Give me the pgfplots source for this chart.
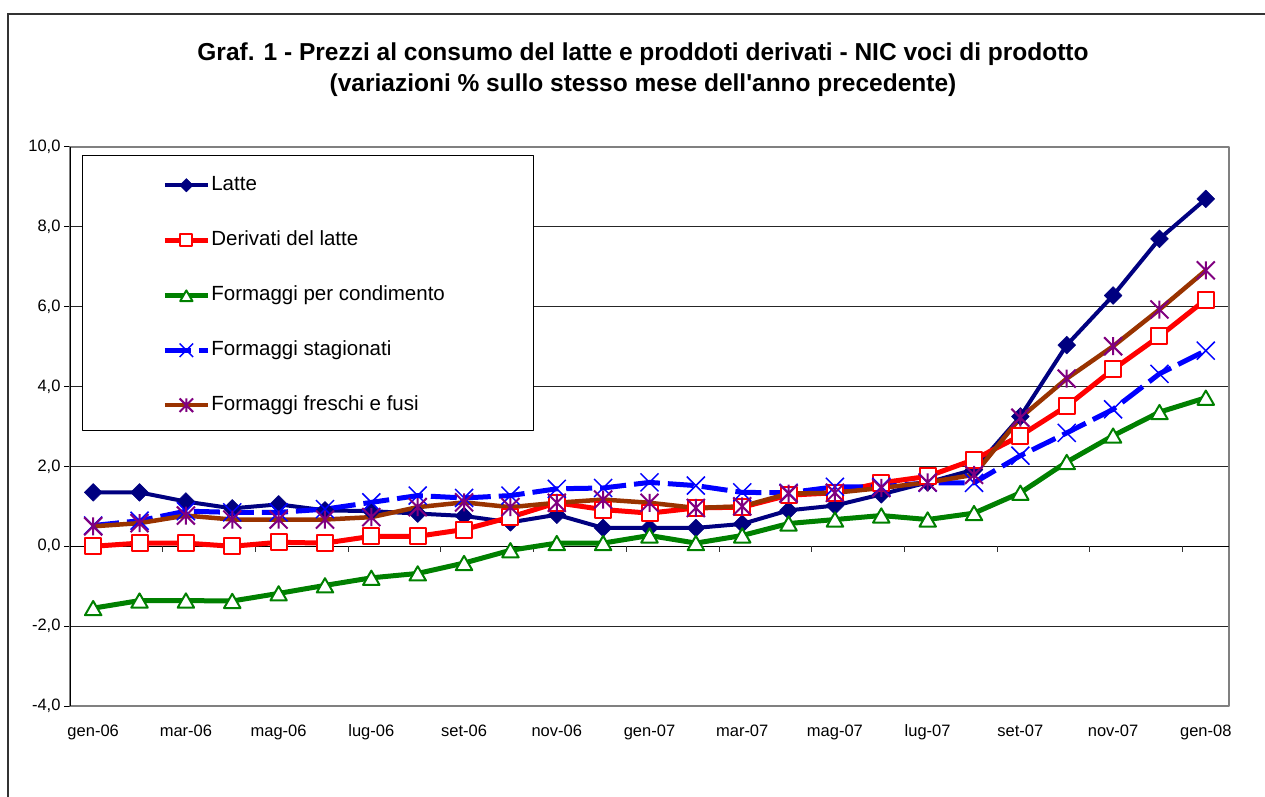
\documentclass[border=0pt]{standalone}
\usepackage{fontspec}
\setmainfont{Liberation Sans}
\usepackage{pgfplots}
\pgfplotsset{compat=1.18}

\definecolor{cNavy}{RGB}{0,0,128}
\definecolor{cRed}{RGB}{255,0,0}
\definecolor{cGreen}{RGB}{0,128,0}
\definecolor{cBlue}{RGB}{0,0,255}
\definecolor{cBrown}{RGB}{153,51,0}
\definecolor{cPurple}{RGB}{128,0,128}

% X marker and star (X with a vertical bar), as in Excel
\pgfdeclareplotmark{xcross}{%
  \pgfpathmoveto{\pgfqpoint{-\pgfplotmarksize}{-\pgfplotmarksize}}%
  \pgfpathlineto{\pgfqpoint{\pgfplotmarksize}{\pgfplotmarksize}}%
  \pgfpathmoveto{\pgfqpoint{-\pgfplotmarksize}{\pgfplotmarksize}}%
  \pgfpathlineto{\pgfqpoint{\pgfplotmarksize}{-\pgfplotmarksize}}%
  \pgfusepathqstroke}
\pgfdeclareplotmark{xstar}{%
  \pgfpathmoveto{\pgfqpoint{-\pgfplotmarksize}{-\pgfplotmarksize}}%
  \pgfpathlineto{\pgfqpoint{\pgfplotmarksize}{\pgfplotmarksize}}%
  \pgfpathmoveto{\pgfqpoint{-\pgfplotmarksize}{\pgfplotmarksize}}%
  \pgfpathlineto{\pgfqpoint{\pgfplotmarksize}{-\pgfplotmarksize}}%
  \pgfpathmoveto{\pgfqpoint{0pt}{-\pgfplotmarksize}}%
  \pgfpathlineto{\pgfqpoint{0pt}{\pgfplotmarksize}}%
  \pgfusepathqstroke}

\begin{document}
\begin{tikzpicture}
\useasboundingbox (0,0) rectangle (1265pt,796pt);
\draw[line width=1.5pt, black!80] (8pt,-5pt) -- (8pt,782pt) -- (1270pt,782pt);
\node[font=\bfseries\fontsize{24.5}{31}\selectfont, align=center] at (643pt,726pt)
  {Graf. 1 - Prezzi al consumo del latte e proddoti derivati - NIC voci di prodotto\\
   (variazioni \% sullo stesso mese dell\textquotesingle anno precedente)};

\begin{axis}[
  at={(70pt,90pt)}, anchor=south west, scale only axis,
  width=1159pt, height=559pt,
  xmin=-0.5, xmax=24.5, ymin=-4, ymax=10,
  xtick={0,2,...,24},
  xticklabels={gen-06,mar-06,mag-06,lug-06,set-06,nov-06,gen-07,mar-07,mag-07,lug-07,set-07,nov-07,gen-08},
  ytick={-4,-2,...,10},
  yticklabels={{-4,0},{-2,0},{0,0},{2,0},{4,0},{6,0},{8,0},{10,0}},
  ytick pos=left,
  ymajorgrids, grid style={black!85, line width=1pt},
  axis line style={draw=black!50, line width=1.5pt},
  x tick style={draw=none},
  y tick style={black, line width=1pt},
  tick align=outside, major tick length=6pt,
  ticklabel style={font=\fontsize{16.5}{18}\selectfont},
  xticklabel style={text height=12pt, text depth=3pt, yshift=-9pt},
  line join=round,
  legend style={at={(0.0795,0.9494)}, anchor=north west, draw=none, fill=none,
    inner sep=0pt, row sep=35.5pt, column sep=1pt,
    font=\fontsize{20.5}{24}\selectfont,
    nodes={inner sep=0pt, text height=15pt, text depth=4.5pt}},
  legend cell align=left,
  legend image code/.code={%
    \draw[#1, mark repeat=2, mark phase=2, every mark/.append style={scale=0.75}]
      plot coordinates {(0pt,0pt) (21.5pt,0pt) (43pt,0pt)};},
]
% legend frame, over the grid
\filldraw[fill=white, draw=black, line width=1pt]
  (rel axis cs:0.01122,0.4937) rectangle (rel axis cs:0.3995,0.9848);
% y axis and zero line with its ticks
\draw[black, line width=1.2pt] (rel axis cs:0,0) -- (rel axis cs:0,1);
\draw[black, line width=1pt] (axis cs:-0.5,0) -- (axis cs:24.5,0);
\pgfplotsinvokeforeach{1.5,3.5,...,23.5}{\draw[black!80, line width=1pt] (axis cs:#1,0) -- ++(0pt,-6pt);}

\addplot[cNavy, line width=4pt, mark=square*, mark size=6.3pt,
  mark options={solid, rotate=45, fill=cNavy, draw=cNavy, line width=0.5pt}]
  coordinates {(0,1.35) (1,1.35) (2,1.12) (3,0.95) (4,1.05) (5,0.9) (6,0.88) (7,0.82)
  (8,0.76) (9,0.6) (10,0.79) (11,0.46) (12,0.46) (13,0.46) (14,0.56) (15,0.9) (16,1.02)
  (17,1.3) (18,1.6) (19,1.92) (20,3.25) (21,5.04) (22,6.28) (23,7.7) (24,8.7)};
\addlegendentry{Latte}

\addplot[cRed, line width=5pt, mark=square*, mark size=8pt,
  mark options={solid, fill=white, draw=cRed, line width=2pt}]
  coordinates {(0,0.0) (1,0.08) (2,0.08) (3,0.0) (4,0.1) (5,0.08) (6,0.25) (7,0.25)
  (8,0.42) (9,0.73) (10,1.09) (11,0.92) (12,0.83) (13,0.96) (14,0.98) (15,1.28) (16,1.34)
  (17,1.59) (18,1.75) (19,2.17) (20,2.77) (21,3.51) (22,4.43) (23,5.26) (24,6.18)};
\addlegendentry{Derivati del latte}

\addplot[cGreen, line width=5pt, mark=triangle*, mark size=9.5pt,
  mark options={solid, fill=white, draw=cGreen, line width=2pt, yshift=-2.3pt}]
  coordinates {(0,-1.55) (1,-1.36) (2,-1.36) (3,-1.37) (4,-1.18) (5,-0.98) (6,-0.79) (7,-0.68)
  (8,-0.42) (9,-0.1) (10,0.08) (11,0.08) (12,0.27) (13,0.08) (14,0.27) (15,0.57) (16,0.67)
  (17,0.77) (18,0.67) (19,0.83) (20,1.34) (21,2.11) (22,2.77) (23,3.36) (24,3.72)};
\addlegendentry{Formaggi per condimento}

\addplot[cBlue, line width=5pt, dash pattern=on 26pt off 8pt, mark=xcross, mark size=9pt,
  mark options={solid, draw=cBlue, line width=1.5pt}]
  coordinates {(0,0.52) (1,0.64) (2,0.88) (3,0.85) (4,0.85) (5,0.93) (6,1.1) (7,1.27)
  (8,1.21) (9,1.27) (10,1.44) (11,1.46) (12,1.6) (13,1.52) (14,1.35) (15,1.34) (16,1.49)
  (17,1.49) (18,1.59) (19,1.59) (20,2.27) (21,2.84) (22,3.43) (23,4.32) (24,4.9)};
\addlegendentry{Formaggi stagionati}

\addplot[cBrown, line width=4.5pt, mark=xstar, mark size=9pt,
  mark options={solid, draw=cPurple, line width=2pt}]
  coordinates {(0,0.5) (1,0.58) (2,0.77) (3,0.67) (4,0.67) (5,0.67) (6,0.73) (7,0.98)
  (8,1.1) (9,0.98) (10,1.09) (11,1.17) (12,1.09) (13,0.96) (14,1.0) (15,1.32) (16,1.34)
  (17,1.46) (18,1.6) (19,1.79) (20,3.22) (21,4.2) (22,5.01) (23,5.93) (24,6.91)};
\addlegendentry{Formaggi freschi e fusi}
\end{axis}
\end{tikzpicture}
\end{document}
